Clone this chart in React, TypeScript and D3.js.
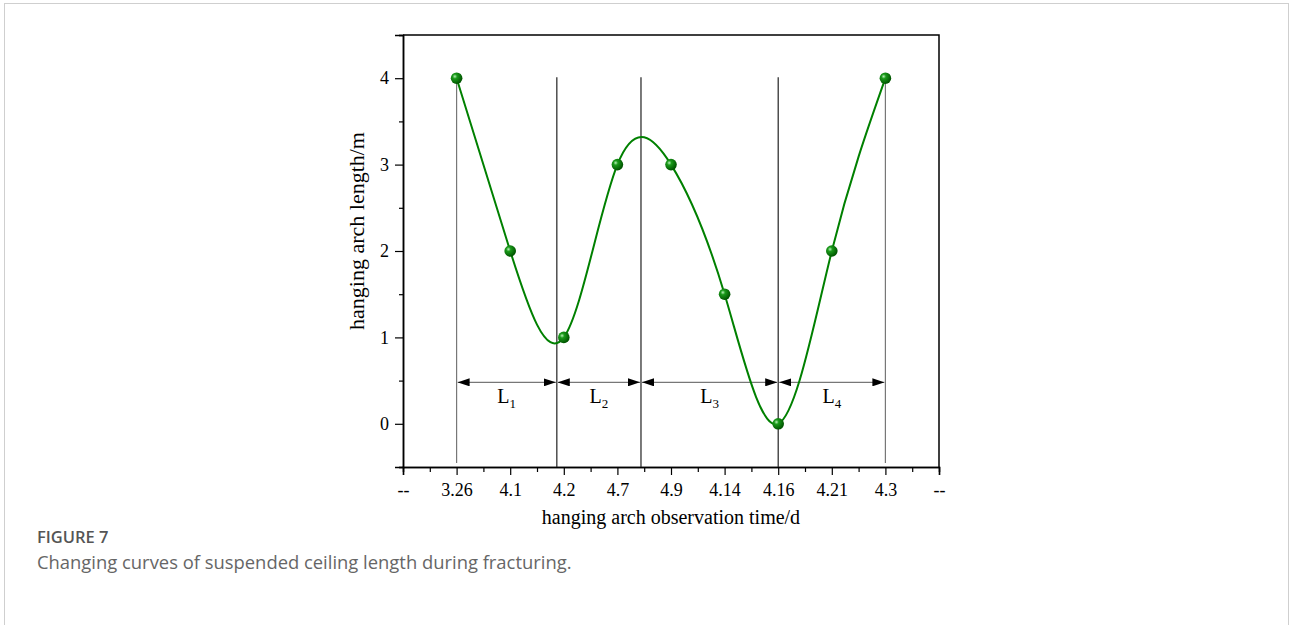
import React, { useEffect, useRef } from "react";
import * as d3 from "d3";

// x positions are category indices; labels shown at each index
const tickLabels = ["--", "3.26", "4.1", "4.2", "4.7", "4.9", "4.14", "4.16", "4.21", "4.3", "--"];
const pointIndex = [1, 2, 3, 4, 5, 6, 7, 8, 9];
const archLength = [4, 2, 1, 3, 3, 1.5, 0, 2, 4];
// stage boundaries (index position) and their labels
const stageBounds = [1, 2.87, 4.44, 7, 9];
const stageNames = ["1", "2", "3", "4"];
const arrowLevel = 0.48;

const App = () => {
  const ref = useRef<SVGSVGElement>(null);

  useEffect(() => {
    document.body.style.margin = "0";
    const svg = d3.select(ref.current);
    svg.selectAll("*").remove();

    const W = 1290, H = 625;
    const margin = { left: 403, right: 351, top: 35, bottom: 158 };
    const iw = W - margin.left - margin.right;
    const ih = H - margin.top - margin.bottom;

    // outer frame of the figure
    svg.append("rect")
      .attr("x", 4.5).attr("y", 3.5).attr("width", 1284).attr("height", 640)
      .attr("fill", "none").attr("stroke", "#cfcfcf");

    const defs = svg.append("defs");
    const grad = defs.append("radialGradient").attr("id", "ball")
      .attr("cx", "35%").attr("cy", "35%").attr("r", "65%");
    grad.append("stop").attr("offset", "0%").attr("stop-color", "#b8f0b8");
    grad.append("stop").attr("offset", "30%").attr("stop-color", "#1a9a1a");
    grad.append("stop").attr("offset", "100%").attr("stop-color", "#005500");

    defs.append("marker").attr("id", "arr")
      .attr("viewBox", "0 0 12 8").attr("refX", 12).attr("refY", 4)
      .attr("markerWidth", 12).attr("markerHeight", 8).attr("markerUnits", "userSpaceOnUse")
      .attr("orient", "auto-start-reverse")
      .append("path").attr("d", "M0,0L12,4L0,8Z").attr("fill", "#000");

    const g = svg.append("g").attr("transform", `translate(${margin.left},${margin.top})`);

    const x = d3.scaleLinear().domain([0, 10]).range([0, iw]);
    const y = d3.scaleLinear().domain([-0.5, 4.5]).range([ih, 0]);

    const serif = "'Liberation Serif', 'Times New Roman', serif";

    // x axis: major ticks with labels, minor ticks between
    const xAxis = g.append("g").attr("transform", `translate(0,${ih})`);
    xAxis.call(d3.axisBottom(x).tickValues(d3.range(0, 11)).tickSize(8).tickPadding(8)
      .tickFormat((d) => tickLabels[d as number]));
    xAxis.append("g").call(d3.axisBottom(x).tickValues(d3.range(0.5, 10, 1)).tickSize(5).tickFormat(() => ""));

    const yAxis = g.append("g");
    yAxis.call(d3.axisLeft(y).tickValues([0, 1, 2, 3, 4]).tickSize(8).tickPadding(6).tickFormat(d3.format("d")));
    yAxis.append("g").call(d3.axisLeft(y).tickValues([-0.5, 0.5, 1.5, 2.5, 3.5, 4.5]).tickSize(4).tickFormat(() => ""));

    g.selectAll(".domain").attr("stroke", "#000").attr("stroke-width", 1.5);
    g.selectAll(".tick line").attr("stroke", "#000").attr("stroke-width", 1.2);
    g.selectAll(".tick text").attr("font-family", serif).attr("font-size", 18).attr("fill", "#000");

    // top/right frame
    g.append("path").attr("d", `M0,0H${iw}V${ih}`).attr("fill", "none")
      .attr("stroke", "#000").attr("stroke-width", 1.5);

    // stage boundary lines
    stageBounds.forEach((b, i) => {
      const edge = i === 0 || i === stageBounds.length - 1;
      g.append("line")
        .attr("x1", x(b)).attr("x2", x(b))
        .attr("y1", y(4) + (edge ? 0 : -1)).attr("y2", edge ? ih - 4 : ih)
        .attr("stroke", edge ? "#777" : "#222").attr("stroke-width", 1.2);
    });

    // double arrows with L labels
    stageNames.forEach((nm, i) => {
      const x0 = x(stageBounds[i]) + 1, x1 = x(stageBounds[i + 1]) - 1;
      g.append("line")
        .attr("x1", x0).attr("x2", x1).attr("y1", y(arrowLevel)).attr("y2", y(arrowLevel))
        .attr("stroke", "#777").attr("stroke-width", 1.2)
        .attr("marker-start", "url(#arr)").attr("marker-end", "url(#arr)");
      const t = g.append("text")
        .attr("x", (x0 + x1) / 2).attr("y", y(arrowLevel) + 21)
        .attr("text-anchor", "middle").attr("font-family", serif).attr("font-size", 20);
      t.append("tspan").text("L");
      t.append("tspan").attr("font-size", 13).attr("dy", 5).text(nm);
    });

    // smooth curve
    const pts = pointIndex.map((p, i) => [p, archLength[i]] as [number, number]);
    g.append("path")
      .datum(pts)
      .attr("d", d3.line<[number, number]>().x((d) => x(d[0])).y((d) => y(d[1])).curve(d3.curveNatural))
      .attr("fill", "none").attr("stroke", "#008000").attr("stroke-width", 2);

    g.selectAll("circle.pt").data(pts).enter().append("circle")
      .attr("class", "pt")
      .attr("cx", (d) => x(d[0])).attr("cy", (d) => y(d[1])).attr("r", 5.8)
      .attr("fill", "url(#ball)");

    // axis titles
    g.append("text")
      .attr("x", iw / 2).attr("y", ih + 57)
      .attr("text-anchor", "middle").attr("font-family", serif).attr("font-size", 20)
      .text("hanging arch observation time/d");
    g.append("text")
      .attr("transform", `translate(-39,${196}) rotate(-90)`)
      .attr("text-anchor", "middle").attr("font-family", serif).attr("font-size", 22)
      .text("hanging arch length/m");

    // caption
    const sans = "'Open Sans', 'Noto Sans', sans-serif";
    svg.append("text").attr("x", 37).attr("y", 543)
      .attr("font-family", sans).attr("font-size", 16.5).attr("font-weight", 600).attr("fill", "#555")
      .text("FIGURE 7");
    svg.append("text").attr("x", 37).attr("y", 569)
      .attr("font-family", sans).attr("font-size", 18.4).attr("fill", "#666")
      .text("Changing curves of suspended ceiling length during fracturing.");
  }, []);

  return <svg ref={ref} width={1290} height={625} style={{ display: "block" }} />;
};

export default App;
